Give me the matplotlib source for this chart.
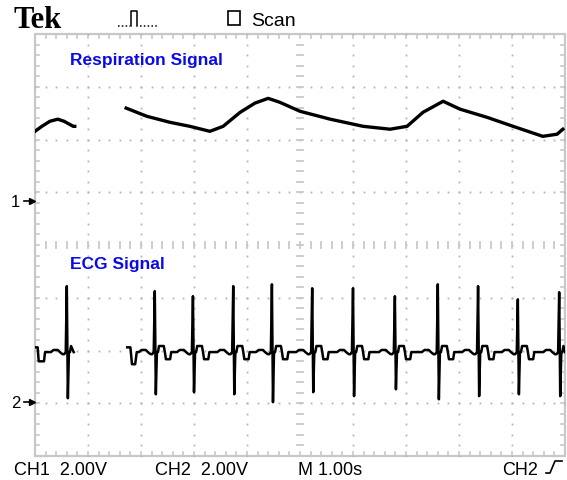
import numpy as np
import matplotlib.pyplot as plt
from matplotlib.patches import Rectangle
from matplotlib.lines import Line2D

W, H = 567, 481
VOLTS_PER_DIV = 2.0
CH1_GROUND = 0.83    # ground marker positions, divisions from screen centre
CH2_GROUND = -2.98

# CH1 respiration, two pieces of trace (seconds, volts above CH1 ground)
resp1_t = [0.00, 0.13, 0.28, 0.43, 0.55, 0.72, 0.75]
resp1_v = [2.65, 2.84, 3.03, 3.11, 3.03, 2.84, 2.84]
resp2_t = [1.72, 2.11, 2.55, 2.92, 3.30, 3.55, 3.87, 4.15, 4.40, 4.62, 5.00,
           5.57, 6.19, 6.70, 7.02, 7.32, 7.70, 8.02, 8.53, 9.02, 9.58, 9.85, 9.96]
resp2_v = [3.53, 3.22, 2.99, 2.84, 2.65, 2.84, 3.37, 3.72, 3.90, 3.75, 3.41,
           3.11, 2.84, 2.73, 2.84, 3.37, 3.79, 3.49, 3.18, 2.84, 2.46, 2.54, 2.73]

# CH2 ECG
ecg_base = 1.90
r_times = [0.60, 2.26, 2.98, 3.74, 4.47, 5.23, 6.00, 6.79, 7.60, 8.36, 9.11, 9.89]
r_peaks = [4.40, 4.21, 4.02, 4.40, 4.47, 4.32, 4.32, 4.02, 4.47, 4.40, 3.90, 4.17]
s_troughs = [0.15, 0.30, 0.38, 0.30, 0.00, 0.38, 0.23, 0.49, 0.11, 0.23, 0.30, 0.23]
# shape of one beat around the R spike (offset s, volts from baseline); R and S filled per beat
beat_dt = [-0.30, -0.25, -0.17, -0.13, -0.08, -0.05, -0.02, 0.00, 0.02, 0.04,
           0.06, 0.08, 0.17, 0.19, 0.21, 0.29, 0.31]
beat_dv = [0.00, 0.08, 0.08, 0.00, -0.08, -0.08, 0.00, 'R', 'S', 0.00,
           0.00, 0.23, 0.23, 0.00, -0.27, -0.27, 0.00]
# visible stretches of the ECG and their first few points
ecg_segments = [(0.00, 0.73), (1.74, 10.0)]
ecg_lead_t = [[0.00, 0.05, 0.07, 0.17, 0.19], [1.74, 1.80, 1.83, 1.89, 1.92]]
ecg_lead_v = [[2.08, 2.08, 1.55, 1.55, 1.90], [2.08, 2.08, 1.44, 1.44, 1.90]]


def ecg_trace(t0, t1, lead_t, lead_v):
    ts, vs = list(lead_t), list(lead_v)
    for tr, rp, sp in zip(r_times, r_peaks, s_troughs):
        for dt, dv in zip(beat_dt, beat_dv):
            t = tr + dt
            if t <= ts[-1] or t > t1:
                continue
            if dv == 'R':
                v = rp
            elif dv == 'S':
                v = sp
            else:
                v = ecg_base + dv
            ts.append(t)
            vs.append(v)
    ts.append(t1)
    vs.append(ecg_base)
    return ts, vs


fig = plt.figure(figsize=(W / 100, H / 100), dpi=100)
fig.patch.set_facecolor('white')
ax = fig.add_axes([35 / W, 24 / H, 530 / W, 422 / H])
ax.set_xlim(0, 10)
ax.set_ylim(-4, 4)
ax.axis('off')

grid_c = '#b4b4b4'
frame_c = '#c8c8c8'
minor_x = np.arange(0, 50.01) / 5
minor_y = np.arange(-20, 20.01) / 5

# frame and its ticks
ax.plot([0, 10, 10, 0, 0], [-4, -4, 4, 4, -4], color=frame_c, lw=1.6, clip_on=False)
for x in minor_x:
    ax.plot([x, x], [4, 3.92], color=frame_c, lw=1.2, clip_on=False)
    ax.plot([x, x], [-4, -3.92], color=frame_c, lw=1.2, clip_on=False)
for y in minor_y:
    ax.plot([0, 0.075], [y, y], color=frame_c, lw=1.2, clip_on=False)
    ax.plot([10, 9.925], [y, y], color=frame_c, lw=1.2, clip_on=False)

# dotted graticule
for x in range(1, 10):
    if x != 5:
        ax.plot(np.full(len(minor_y), x), minor_y, ls='none', marker='s', ms=1.3,
                mew=0, color=grid_c)
for y in range(-3, 4):
    if y != 0:
        ax.plot(minor_x, np.full(len(minor_x), y), ls='none', marker='s', ms=1.3,
                mew=0, color=grid_c)

# centre cross
for y in minor_y:
    ax.plot([4.94, 5.06], [y, y], color=frame_c, lw=1.3)
for x in minor_x:
    ax.plot([x, x], [-0.065, 0.065], color=frame_c, lw=1.3)

# traces
ax.plot(resp1_t, CH1_GROUND + np.array(resp1_v) / VOLTS_PER_DIV, color='black', lw=2.4)
ax.plot(resp2_t, CH1_GROUND + np.array(resp2_v) / VOLTS_PER_DIV, color='black', lw=2.4)
for (t0, t1), lt, lv in zip(ecg_segments, ecg_lead_t, ecg_lead_v):
    ts, vs = ecg_trace(t0, t1, lt, lv)
    ax.plot(ts, CH2_GROUND + np.array(vs) / VOLTS_PER_DIV, color='black', lw=1.8)

# ground markers
for lab, g in [('1', CH1_GROUND), ('2', CH2_GROUND)]:
    ax.plot([-0.2, -0.06], [g, g], color='black', lw=1.2, clip_on=False)
    ax.plot([-0.06], [g], marker='>', ms=4, color='black', clip_on=False)
    ax.text(-0.28, g, lab, ha='right', va='center', fontsize=12, family='Liberation Sans')

blue = '#0a0ae6'
fig.text(70 / W, 1 - 61 / H, 'Respiration Signal', color=blue, fontsize=12.5,
         fontweight='bold', family='Liberation Sans', va='center')
fig.text(70 / W, 1 - 265 / H, 'ECG Signal', color=blue, fontsize=12.5,
         fontweight='bold', family='Liberation Sans', va='center')

# header
fig.text(13 / W, 1 - 28 / H, 'Tek', fontsize=22, fontweight='bold',
         family='Liberation Serif', va='baseline')
fig.text(251 / W, 1 - 26 / H, 'Scan', fontsize=14, family='Liberation Sans', va='baseline')
fig.patches.append(Rectangle((228 / W, 1 - 26 / H), 12 / W, 14 / H, fill=False,
                             lw=1.2, ec='black', transform=fig.transFigure))


def px(xs, ys):
    return [x / W for x in xs], [1 - y / H for y in ys]


for xs, ys, ls in [([118, 130], [27, 27], (0, (1, 1.5))),
                   ([131, 131, 137, 137], [27, 12, 12, 27], '-'),
                   ([140, 158], [27, 27], (0, (1, 1.5)))]:
    fx, fy = px(xs, ys)
    fig.lines.append(Line2D(fx, fy, color='black', lw=1.1, ls=ls, transform=fig.transFigure))

# footer
for x, s in [(14, 'CH1  2.00V'), (155, 'CH2  2.00V'), (298, 'M 1.00s'), (502, 'CH2')]:
    fig.text(x / W, 1 - 475 / H, s, fontsize=13, family='Liberation Sans', va='baseline')
fx, fy = px([546, 550, 555, 562], [474, 474, 462, 462])
fig.lines.append(Line2D(fx, fy, color='black', lw=1.2, transform=fig.transFigure))

fig.savefig('out.png', dpi=100)
